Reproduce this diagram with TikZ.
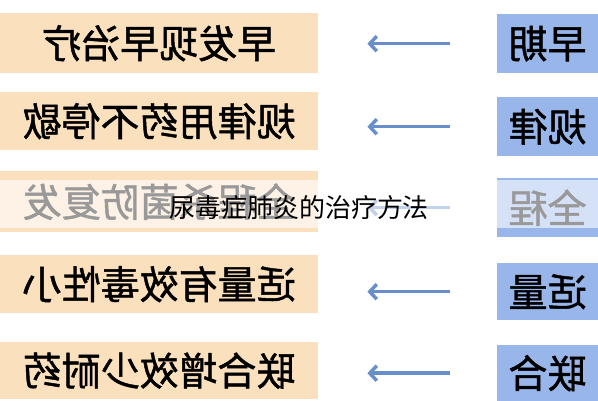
\documentclass[tikz,border=0pt]{standalone}
\usepackage{fontspec}
\usepackage{graphicx}
\newfontfamily\cjk{Noto Sans CJK SC}
\newfontfamily\cjkheavy[FakeBold=1.2]{Noto Sans CJK SC}
\usetikzlibrary{arrows.meta}
\definecolor{peach}{RGB}{251,224,190}
\definecolor{lightblue}{RGB}{152,182,234}
\definecolor{arrowblue}{RGB}{104,143,202}

\begin{document}
\begin{tikzpicture}[x=1pt,y=-1pt,
  plan/.style={fill=peach,anchor=north west,minimum width=318pt,inner sep=0pt,
    font=\cjkheavy\fontsize{39}{39}\selectfont},
  term/.style={fill=lightblue,anchor=north west,minimum width=101pt,inner sep=0pt,
    font=\cjkheavy\fontsize{39}{39}\selectfont},
  arr/.style={draw=arrowblue,line width=3.5pt,-{Straight Barb[length=7pt,width=15pt]},
    shorten <=47pt,shorten >=49pt}]
\useasboundingbox (0,0) rectangle (598,400);
% rows
\node[plan,minimum height=60pt] (o1) at (0,13) {\reflectbox{早发现早治疗}};
\node[plan,minimum height=58pt] (o2) at (0,92) {\reflectbox{规律用药不停歇}};
\node[plan,minimum height=61pt] (o3) at (0,171) {\reflectbox{全程杀菌防复发}};
\node[plan,minimum height=58pt] (o4) at (0,255) {\reflectbox{适量有效毒性小}};
\node[plan,minimum height=57pt] (o5) at (0,342) {\reflectbox{联合增效少耐药}};
\node[term,minimum height=59pt] (b1) at (497,14) {\reflectbox{早期}};
\node[term,minimum height=59pt] (b2) at (497,97) {\reflectbox{规律}};
\node[term,minimum height=59pt] (b3) at (497,178) {\reflectbox{全程}};
\node[term,minimum height=57pt] (b4) at (497,263) {\reflectbox{适量}};
\node[term,minimum height=56pt] (b5) at (497,345) {\reflectbox{联合}};
\foreach \i in {1,...,5}
  \draw[arr] (b\i.west) -- (o\i.east |- b\i.west);
% faded band
\fill[white,opacity=0.6] (0,180) rectangle (598,228);
\node[font=\cjk\fontsize{26}{26}\selectfont] (wm) at (299,208) {尿毒症肺炎的治疗方法};
\end{tikzpicture}
\end{document}
